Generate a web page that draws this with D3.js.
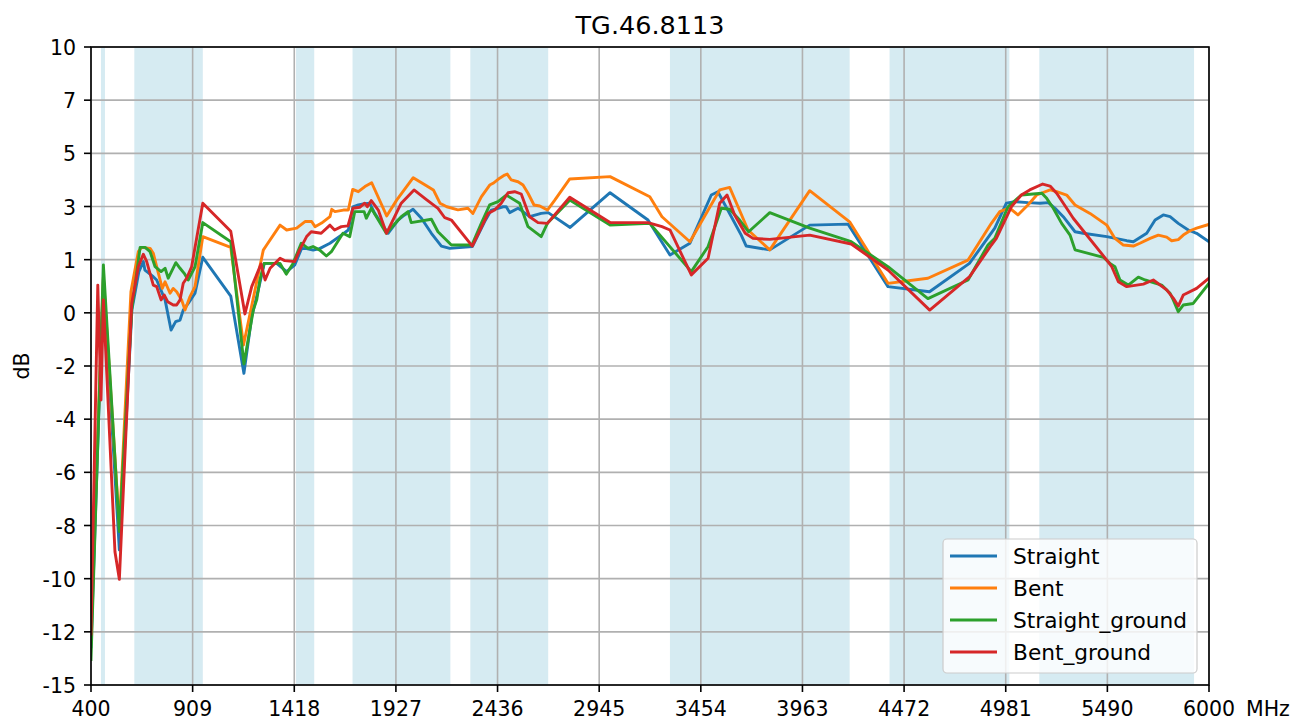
<!DOCTYPE html>
<html>
<head>
<meta charset="utf-8">
<script src="https://cdn.jsdelivr.net/npm/d3@7"></script>
<style>
body { margin: 0; background: #ffffff; }
text { font-family: 'DejaVu Sans', sans-serif; fill: #000000; }
</style>
</head>
<body>
<script>
var WIDTH = 1304;
var HEIGHT = 722;
var LEFT = 91, RIGHT = 1209, TOP = 47, BOTTOM = 685;
var TICK_FONT = 20.5;
var LINE_WIDTH = 2.9;

var title = 'TG.46.8113';
var seriesNames = ['Straight', 'Bent', 'Straight_ground', 'Bent_ground'];
var seriesColors = ['#1f77b4', '#ff7f0e', '#2ca02c', '#d62728'];

// shaded frequency bands (MHz)
var bandStart = [450, 617, 1427, 1710, 2300, 3300, 4400, 5150];
var bandEnd = [470, 960, 1518, 2200, 2690, 4200, 5000, 5925];

var xTickLabels = ['400', '909', '1418', '1927', '2436', '2945', '3454', '3963', '4472', '4981', '5490', '6000'];
var yTickLabels = ['-15', '-12', '-10', '-8', '-6', '-4', '-2', '0', '1', '3', '5', '7', '10'];

// [MHz, dB]
var straight = [[400,-13.5],[462,0.9],[542,-9.71],[605,-0.3],[640,1.2],[662,1.59],[670,1.26],[712,1.0],[729,0.87],[771,0.09],[801,-1.09],[824,-0.76],[846,-0.7],[862,-0.31],[887,-0.05],[921,0.35],[960,1.76],[1100,0.24],[1166,-2.79],[1205,-0.57],[1238,0.48],[1268,1.52],[1330,1.52],[1380,1.2],[1420,1.45],[1455,2.11],[1480,2.1],[1513,2.04],[1545,2.1],[1597,2.31],[1654,2.63],[1689,2.83],[1712,3.74],[1739,3.81],[1764,3.85],[1796,3.88],[1821,3.48],[1888,2.7],[1938,3.22],[1971,3.42],[2013,3.64],[2055,3.29],[2105,2.7],[2155,2.2],[2197,2.11],[2310,2.18],[2372,3.16],[2405,3.61],[2439,3.68],[2464,3.74],[2480,3.74],[2497,3.51],[2539,3.68],[2555,3.6],[2597,3.35],[2655,3.48],[2690,3.51],[2800,2.93],[3000,4.29],[3190,3.22],[3300,1.85],[3400,2.31],[3507,4.2],[3540,4.33],[3657,2.63],[3682,2.2],[3800,2.05],[4000,3.02],[4192,3.06],[4392,0.61],[4600,0.41],[4800,1.52],[4927,2.9],[4985,3.88],[5027,3.94],[5093,3.9],[5153,3.88],[5195,3.9],[5229,3.68],[5270,3.35],[5329,2.76],[5370,2.7],[5488,2.57],[5588,2.41],[5621,2.37],[5688,2.7],[5730,3.22],[5771,3.42],[5805,3.35],[5846,3.09],[5896,2.83],[5938,2.7],[6000,2.37]];

var bent = [[400,-12.5],[462,1.0],[542,-8.8],[600,0.41],[637,1.98],[654,2.15],[696,2.11],[712,1.92],[729,1.39],[757,0.54],[771,0.8],[796,0.35],[812,0.54],[829,0.41],[854,0.09],[871,-0.31],[896,0.22],[921,0.61],[960,2.57],[1100,2.15],[1164,-1.68],[1263,2.04],[1280,2.24],[1347,3.02],[1380,2.83],[1430,2.9],[1472,3.16],[1505,3.16],[1522,2.96],[1555,3.1],[1597,3.35],[1606,3.64],[1622,3.55],[1664,3.61],[1689,3.61],[1711,4.42],[1739,4.33],[1772,4.53],[1806,4.68],[1881,3.38],[1931,4.0],[2014,4.88],[2072,4.6],[2115,4.4],[2148,3.88],[2182,3.74],[2238,3.62],[2288,3.68],[2313,3.48],[2355,4.13],[2397,4.59],[2414,4.66],[2447,4.86],[2472,4.98],[2485,5.02],[2505,4.79],[2539,4.72],[2564,4.59],[2589,4.27],[2619,3.81],[2648,3.77],[2686,3.61],[2723,4.0],[2798,4.83],[3000,4.92],[3199,4.13],[3260,3.35],[3400,2.37],[3549,4.4],[3599,4.5],[3641,3.74],[3691,2.83],[3800,2.05],[4000,4.37],[4200,3.15],[4392,0.74],[4592,0.94],[4793,1.65],[4910,3.09],[4952,3.55],[5000,3.7],[5043,3.42],[5093,3.81],[5137,4.2],[5204,4.4],[5237,4.33],[5287,4.2],[5329,3.81],[5404,3.48],[5488,3.02],[5529,2.5],[5571,2.24],[5621,2.2],[5654,2.31],[5705,2.5],[5746,2.63],[5788,2.55],[5813,2.41],[5846,2.45],[5871,2.63],[5905,2.8],[5938,2.9],[6000,3.05]];

var straightGround = [[400,-14],[462,1.46],[542,-8.99],[604,-0.3],[646,2.15],[671,2.15],[696,1.98],[721,1.39],[751,1.2],[771,1.33],[787,0.94],[825,1.55],[846,1.33],[867,1.13],[887,0.87],[921,1.39],[960,3.12],[1100,2.37],[1166,-2.42],[1213,-0.31],[1230,0.09],[1246,0.87],[1267,1.52],[1313,1.52],[1347,1.52],[1378,1.1],[1412,1.52],[1453,2.31],[1487,2.11],[1512,2.18],[1546,2.04],[1579,1.81],[1604,1.98],[1662,2.7],[1696,2.57],[1721,3.55],[1768,3.55],[1779,3.29],[1804,3.68],[1879,2.7],[1954,3.35],[1988,3.55],[2004,3.12],[2105,3.25],[2138,2.76],[2205,2.24],[2308,2.24],[2355,3.09],[2397,3.81],[2439,3.94],[2480,4.2],[2547,3.88],[2589,2.96],[2655,2.57],[2686,3.09],[2798,4.0],[3000,3.02],[3199,3.09],[3407,1.2],[3491,2.18],[3557,3.68],[3599,3.64],[3649,3.22],[3694,2.76],[3800,3.51],[4000,2.9],[4208,2.37],[4392,1.39],[4592,0.14],[4793,0.87],[4893,2.24],[4927,2.5],[4993,3.74],[5060,4.2],[5163,4.27],[5187,4.07],[5220,3.68],[5262,3.09],[5304,2.63],[5329,2.05],[5471,1.76],[5504,1.52],[5529,1.39],[5554,0.87],[5596,0.67],[5646,0.98],[5680,0.87],[5763,0.67],[5805,0.35],[5821,0.09],[5846,-0.37],[5871,-0.11],[5921,-0.05],[6000,0.74]];

var bentGround = [[400,-13],[434,0.67],[450,-3.83],[462,0.09],[520,-9.78],[542,-10.86],[604,-0.05],[637,1.39],[662,1.88],[679,1.59],[712,0.67],[729,0.61],[751,0.09],[767,0.28],[784,0.02],[812,-0.11],[829,-0.11],[846,0.09],[862,0.74],[879,0.94],[904,1.39],[960,3.88],[1100,2.78],[1171,-0.46],[1205,0.61],[1252,1.5],[1272,0.87],[1297,1.33],[1347,1.72],[1370,1.63],[1420,1.59],[1445,2.05],[1480,2.57],[1503,2.76],[1553,2.7],[1597,3.02],[1620,2.83],[1654,2.96],[1687,2.99],[1712,3.68],[1746,3.72],[1771,3.88],[1784,3.74],[1804,3.98],[1839,3.61],[1880,2.7],[1954,3.88],[2018,4.4],[2072,4.07],[2138,3.68],[2172,3.31],[2205,3.22],[2310,2.2],[2389,3.48],[2422,3.61],[2455,3.88],[2489,4.29],[2522,4.33],[2555,4.24],[2597,3.35],[2639,3.12],[2686,3.09],[2798,4.11],[3000,3.12],[3190,3.12],[3260,2.96],[3300,2.83],[3407,1.07],[3491,1.72],[3549,3.88],[3586,4.2],[3624,3.42],[3677,2.7],[3716,2.5],[3800,2.46],[4000,2.63],[4208,2.28],[4392,1.26],[4601,-0.31],[4801,1.0],[4910,2.24],[4935,2.5],[5010,3.74],[5060,4.2],[5102,4.4],[5167,4.63],[5204,4.55],[5237,4.27],[5287,3.68],[5320,3.29],[5488,1.65],[5513,1.39],[5546,0.8],[5588,0.61],[5671,0.71],[5721,0.87],[5788,0.48],[5821,0.16],[5846,-0.15],[5871,0.28],[5938,0.54],[6000,0.94]];

var allSeries = [straight, bent, straightGround, bentGround];

// ticks are evenly spaced; labels as printed on the original axes
var xTicks = xTickLabels.map(function (d, i) { return 400 + i * 5600 / (xTickLabels.length - 1); });
var yTicks = yTickLabels.map(function (d, i) { return -15 + i * 25 / (yTickLabels.length - 1); });

var x = d3.scaleLinear().domain([400, 6000]).range([LEFT, RIGHT]);
var y = d3.scaleLinear().domain([-15, 10]).range([BOTTOM, TOP]);

var svg = d3.select('body').append('svg')
    .attr('width', WIDTH)
    .attr('height', HEIGHT);

svg.append('defs').append('clipPath')
    .attr('id', 'plotClip')
    .append('rect')
    .attr('x', LEFT)
    .attr('y', TOP)
    .attr('width', RIGHT - LEFT)
    .attr('height', BOTTOM - TOP);

// bands
svg.append('g').selectAll('rect')
    .data(bandStart)
    .enter()
    .append('rect')
    .attr('x', function (d) { return x(d); })
    .attr('y', TOP)
    .attr('width', function (d, i) { return x(bandEnd[i]) - x(d); })
    .attr('height', BOTTOM - TOP)
    .style('fill', '#add8e6')
    .style('opacity', 0.5);

// grid
var grid = svg.append('g')
    .style('stroke', '#b0b0b0')
    .style('stroke-width', 1.6);
grid.selectAll('.vgrid')
    .data(xTicks)
    .enter()
    .append('line')
    .attr('class', 'vgrid')
    .attr('x1', function (d) { return x(d); })
    .attr('x2', function (d) { return x(d); })
    .attr('y1', TOP)
    .attr('y2', BOTTOM);
grid.selectAll('.hgrid')
    .data(yTicks)
    .enter()
    .append('line')
    .attr('class', 'hgrid')
    .attr('x1', LEFT)
    .attr('x2', RIGHT)
    .attr('y1', function (d) { return y(d); })
    .attr('y2', function (d) { return y(d); });

// series
var line = d3.line()
    .x(function (d) { return x(d[0]); })
    .y(function (d) { return y(d[1]); });

svg.append('g')
    .attr('clip-path', 'url(#plotClip)')
    .selectAll('path')
    .data(allSeries)
    .enter()
    .append('path')
    .attr('d', line)
    .style('fill', 'none')
    .style('stroke', function (d, i) { return seriesColors[i]; })
    .style('stroke-width', LINE_WIDTH)
    .style('stroke-linejoin', 'round')
    .style('stroke-linecap', 'square');

// axes frame
svg.append('rect')
    .attr('x', LEFT)
    .attr('y', TOP)
    .attr('width', RIGHT - LEFT)
    .attr('height', BOTTOM - TOP)
    .style('fill', 'none')
    .style('stroke', '#000000')
    .style('stroke-width', 1.6);

// x ticks
var xAxis = svg.append('g');
xAxis.selectAll('line')
    .data(xTicks)
    .enter()
    .append('line')
    .attr('x1', function (d) { return x(d); })
    .attr('x2', function (d) { return x(d); })
    .attr('y1', BOTTOM)
    .attr('y2', BOTTOM + 7)
    .style('stroke', '#000000')
    .style('stroke-width', 1.6);
xAxis.selectAll('text')
    .data(xTicks)
    .enter()
    .append('text')
    .attr('x', function (d) { return x(d); })
    .attr('y', BOTTOM + 31)
    .attr('text-anchor', 'middle')
    .style('font-size', TICK_FONT + 'px')
    .text(function (d, i) { return xTickLabels[i]; });
svg.append('text')
    .attr('x', 1246)
    .attr('y', BOTTOM + 31)
    .style('font-size', TICK_FONT + 'px')
    .text('MHz');

// y ticks
var yAxis = svg.append('g');
yAxis.selectAll('line')
    .data(yTicks)
    .enter()
    .append('line')
    .attr('x1', LEFT - 7)
    .attr('x2', LEFT)
    .attr('y1', function (d) { return y(d); })
    .attr('y2', function (d) { return y(d); })
    .style('stroke', '#000000')
    .style('stroke-width', 1.6);
yAxis.selectAll('text')
    .data(yTicks)
    .enter()
    .append('text')
    .attr('x', LEFT - 15)
    .attr('y', function (d) { return y(d) + 8; })
    .attr('text-anchor', 'end')
    .style('font-size', TICK_FONT + 'px')
    .text(function (d, i) { return yTickLabels[i]; });
svg.append('text')
    .attr('transform', 'translate(29,366) rotate(-90)')
    .attr('text-anchor', 'middle')
    .style('font-size', TICK_FONT + 'px')
    .text('dB');

// title
svg.append('text')
    .attr('x', (LEFT + RIGHT) / 2)
    .attr('y', 34)
    .attr('text-anchor', 'middle')
    .style('font-size', '25.5px')
    .text(title);

// legend
var legend = svg.append('g');
legend.append('rect')
    .attr('x', 943)
    .attr('y', 539)
    .attr('width', 254)
    .attr('height', 134)
    .attr('rx', 4)
    .style('fill', '#ffffff')
    .style('fill-opacity', 0.8)
    .style('stroke', '#cccccc')
    .style('stroke-width', 1.2);
var rows = legend.selectAll('.legendRow')
    .data(seriesNames)
    .enter()
    .append('g')
    .attr('class', 'legendRow')
    .attr('transform', function (d, i) { return 'translate(0,' + (556 + i * 32) + ')'; });
rows.append('line')
    .attr('x1', 950)
    .attr('x2', 997)
    .attr('y1', 0)
    .attr('y2', 0)
    .style('stroke', function (d, i) { return seriesColors[i]; })
    .style('stroke-width', LINE_WIDTH);
rows.append('text')
    .attr('x', 1013)
    .attr('y', 8)
    .style('font-size', '21.7px')
    .text(function (d) { return d; });
</script>
</body>
</html>
